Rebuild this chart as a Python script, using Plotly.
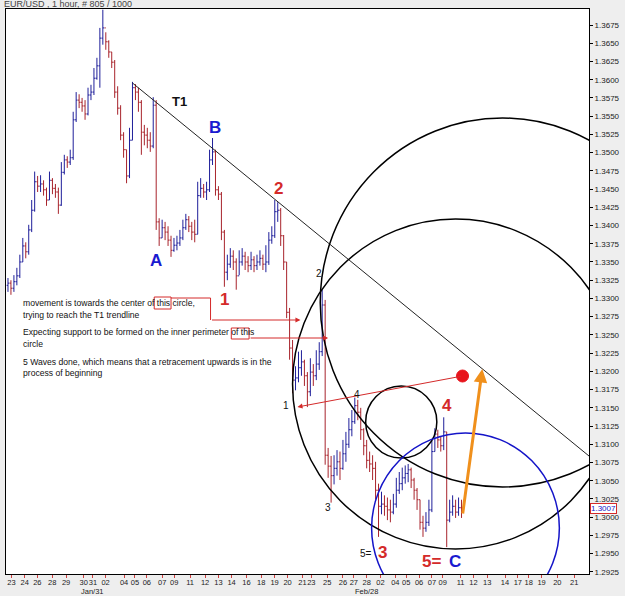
import plotly.graph_objects as go

chart_title = "EUR/USD , 1 hour, # 805 / 1000"
first_open = 1.3318
closes = [1.3321,1.3314,1.3323,1.3331,1.3350,1.3372,1.3364,1.3394,1.3421,1.3460,
1.3454,1.3457,1.3449,1.3435,1.3462,1.3451,1.3446,1.3428,1.3473,1.3490,
1.3487,1.3493,1.3545,1.3572,1.3569,1.3564,1.3553,1.3579,1.3583,1.3602,
1.3619,1.3657,1.3671,1.3652,1.3638,1.3624,1.3583,1.3561,1.3524,1.3504,
1.3468,1.3517,1.3589,1.3583,1.3569,1.3528,1.3524,1.3517,1.3509,1.3565,
1.3405,1.3383,1.3397,1.3391,1.3380,1.3366,1.3373,1.3376,1.3383,1.3397,
1.3408,1.3399,1.3391,1.3388,1.3441,1.3451,1.3446,1.3449,1.3490,1.3501,
1.3449,1.3443,1.3391,1.3336,1.3347,1.3358,1.3350,1.3331,1.3350,1.3358,
1.3350,1.3345,1.3353,1.3345,1.3350,1.3355,1.3347,1.3350,1.3380,1.3386,
1.3419,1.3421,1.3386,1.3350,1.3281,1.3232,1.3188,1.3191,1.3205,1.3213,
1.3194,1.3172,1.3199,1.3194,1.3210,1.3227,1.3291,1.3085,1.3070,1.3057,
1.3067,1.3076,1.3067,1.3087,1.3100,1.3120,1.3131,1.3153,1.3144,1.3120,
1.3098,1.3078,1.3073,1.3067,1.3037,1.3015,1.3018,1.3015,1.3010,1.3007,
1.3018,1.3037,1.3046,1.3054,1.3060,1.3065,1.3051,1.3037,1.3024,1.2993,
1.2985,1.2993,1.3010,1.3090,1.3114,1.3106,1.3098,1.3117,1.2996,1.3007,
1.3015,1.3007,1.3013,1.3007]
highs = [1.3328,1.3325,1.3332,1.3342,1.3360,1.3383,1.3377,1.3401,1.3435,1.3474,
1.3468,1.3469,1.3462,1.3452,1.3474,1.3465,1.3457,1.3452,1.3487,1.3497,
1.3495,1.3504,1.3556,1.3583,1.3580,1.3575,1.3572,1.3589,1.3593,1.3616,
1.3630,1.3671,1.3696,1.3665,1.3654,1.3638,1.3627,1.3591,1.3565,1.3528,
1.3504,1.3534,1.3597,1.3594,1.3589,1.3572,1.3538,1.3534,1.3528,1.3576,
1.3572,1.3410,1.3408,1.3405,1.3399,1.3386,1.3383,1.3386,1.3394,1.3408,
1.3416,1.3413,1.3405,1.3408,1.3460,1.3465,1.3457,1.3460,1.3504,1.3520,
1.3504,1.3454,1.3446,1.3394,1.3360,1.3369,1.3366,1.3355,1.3366,1.3369,
1.3364,1.3358,1.3364,1.3358,1.3360,1.3366,1.3360,1.3373,1.3391,1.3399,
1.3435,1.3432,1.3424,1.3387,1.3350,1.3287,1.3243,1.3207,1.3227,1.3229,
1.3216,1.3199,1.3218,1.3210,1.3229,1.3240,1.3312,1.3298,1.3095,1.3084,
1.3085,1.3092,1.3090,1.3106,1.3117,1.3136,1.3147,1.3164,1.3161,1.3150,
1.3122,1.3106,1.3090,1.3085,1.3076,1.3046,1.3035,1.3030,1.3027,1.3024,
1.3032,1.3054,1.3062,1.3068,1.3071,1.3073,1.3068,1.3054,1.3040,1.3024,
1.3002,1.3007,1.3024,1.3106,1.3122,1.3120,1.3111,1.3137,1.3117,1.3024,
1.3030,1.3024,1.3027,1.3024]
lows = [1.3309,1.3305,1.3309,1.3318,1.3328,1.3350,1.3355,1.3360,1.3391,1.3419,
1.3446,1.3446,1.3441,1.3427,1.3435,1.3443,1.3438,1.3416,1.3427,1.3470,
1.3479,1.3483,1.3490,1.3542,1.3561,1.3556,1.3545,1.3551,1.3572,1.3579,
1.3600,1.3589,1.3648,1.3641,1.3630,1.3616,1.3575,1.3552,1.3517,1.3493,
1.3458,1.3465,1.3517,1.3572,1.3556,1.3497,1.3510,1.3506,1.3501,1.3506,
1.3394,1.3372,1.3383,1.3380,1.3372,1.3357,1.3364,1.3366,1.3372,1.3380,
1.3394,1.3391,1.3380,1.3377,1.3388,1.3438,1.3438,1.3435,1.3446,1.3483,
1.3441,1.3435,1.3380,1.3316,1.3325,1.3342,1.3339,1.3312,1.3332,1.3345,
1.3339,1.3336,1.3339,1.3336,1.3339,1.3345,1.3339,1.3336,1.3346,1.3375,
1.3383,1.3405,1.3372,1.3339,1.3273,1.3216,1.3170,1.3174,1.3185,1.3194,
1.3180,1.3151,1.3166,1.3180,1.3188,1.3202,1.3221,1.3072,1.3054,1.3020,
1.3045,1.3057,1.3051,1.3065,1.3076,1.3095,1.3111,1.3128,1.3133,1.3106,
1.3085,1.3067,1.3062,1.3051,1.3024,1.2973,1.3004,1.3002,1.2996,1.2993,
1.3004,1.3013,1.3032,1.3037,1.3046,1.3048,1.3040,1.3024,1.3010,1.2983,
1.2973,1.2980,1.2988,1.3007,1.3090,1.3095,1.3090,1.3092,1.2959,1.2993,
1.3002,1.2999,1.3002,1.2999]
tick_pos = [1.17,5.67,9.9,14.93,19.6,25.57,28.67,32.93,39.17,42.83,46.83,52,56.07,61.43,66.5,71,75.43,80.43,85.43,89.93,94.33,99.33,102.33,107.67,113,116.67,121,125.67,130.67,134.33,138.67,143,146.67,152.67,157,161.67,167.67,172,175.67,180,185.33,191]
tick_text = ["23","24","26","28","29","30","31","02","04","05","06","07","09","11","12","13","14","16","18","19",
"20","21","23","25","26","27","28","02","04","05","06","07","09","11","12","13","14","17","18","19","20","21"]
month_labels = ["Jan/31", "Feb/28"]
month_pos = [28.67, 121]
last_price = 1.3007

opens = [first_open] + closes[:-1]
bars = list(range(len(closes)))

# pixel -> data / paper helpers for the hand-drawn annotations
def X(px):
    return (px - 7) / 3.0

def Y(py):
    return 1.3675 - (py - 25) * 0.0025 / 18.23

def PX(px):
    return (px - 5) / 590.0

def PY(py):
    return (574 - py) / 565.0

fig = go.Figure(go.Ohlc(x=bars, open=opens, high=highs, low=lows, close=closes,
                        increasing=dict(line=dict(color="#1f1f9a", width=1)),
                        decreasing=dict(line=dict(color="#a8242c", width=1)),
                        tickwidth=0.45, hoverinfo="skip"))

RED = "#d42a2a"
shapes = []
def seg(x0, y0, x1, y1, color, w=1):
    shapes.append(dict(type="line", xref="x", yref="y", x0=X(x0), y0=Y(y0), x1=X(x1), y1=Y(y1),
                       line=dict(color=color, width=w)))
def circ(l, t, r, b, color, w=1.5):
    shapes.append(dict(type="circle", xref="x", yref="y", x0=X(l), x1=X(r), y0=Y(b), y1=Y(t),
                       line=dict(color=color, width=w)))

seg(133, 83, 595, 456, "#222222", 1)          # T1 trendline
circ(323, 118, 692, 487, "black")
circ(295, 219, 625, 549, "black")
circ(369, 386, 441, 458, "black")
circ(375, 433, 565, 623, "#1414c8")
shapes.append(dict(type="rect", xref="x", yref="y", x0=X(155), x1=X(172), y0=Y(309), y1=Y(297),
                   line=dict(color=RED, width=1)))
shapes.append(dict(type="rect", xref="x", yref="y", x0=X(233), x1=X(251), y0=Y(339), y1=Y(328),
                   line=dict(color=RED, width=1)))
seg(172, 298, 212, 298, RED)
seg(212, 298, 212, 320, RED)
shapes.append(dict(type="circle", xref="x", yref="y", xsizemode="pixel", ysizemode="pixel",
                   xanchor=X(467), yanchor=Y(376), x0=-6, x1=6, y0=-6, y1=6,
                   fillcolor="#e8141c", line=dict(color="#e8141c", width=1)))

ann = []
def arrow(hx, hy, tx, ty, color, w=1, size=1.0):
    ann.append(dict(x=X(hx), y=Y(hy), ax=X(tx), ay=Y(ty), xref="x", yref="y", axref="x", ayref="y",
                    text="", showarrow=True, arrowhead=2, arrowsize=size, arrowwidth=w, arrowcolor=color))
arrow(303, 320, 212, 320, RED)
arrow(331, 338, 251, 338, RED)
arrow(300, 407, 467, 376, RED)
arrow(487, 369, 467, 515, "#f0901c", 3, 0.9)

def txt(s, px, py, size=9, color="#111", bold=False, anchor="center"):
    ann.append(dict(x=X(px), y=Y(py), xref="x", yref="y", text=("<b>%s</b>" % s) if bold else s,
                    showarrow=False, xanchor=anchor, yanchor="middle",
                    font=dict(size=size, color=color, family="Liberation Sans, Arial")))

def ptxt(s, px, py, size=9, color="#222", anchor="center", **kw):
    ann.append(dict(x=PX(px), y=PY(py), xref="paper", yref="paper", text=s, showarrow=False,
                    xanchor=anchor, yanchor="middle",
                    font=dict(size=size, color=color, family="Liberation Sans, Arial"), **kw))

ptxt(chart_title, 1, 4, 9, "#444", anchor="left")
NOTE = 8.6
txt("movement is towards the center of this circle,", 20, 303, NOTE, anchor="left")
txt("trying to reach the T1 trendline", 20, 315, NOTE, anchor="left")
txt("Expecting support to be formed on the inner perimeter of this", 20, 332, NOTE, anchor="left")
txt("circle", 20, 344, NOTE, anchor="left")
txt("5 Waves done, which means that a retracement upwards is in the", 20, 362, NOTE, anchor="left")
txt("process of beginning", 20, 373, NOTE, anchor="left")

BLUE = "#1a1ad0"
txt("T1", 181, 101, 13, "#111", True)
txt("B", 216, 127, 17, BLUE, True)
txt("A", 157, 260, 17, BLUE, True)
txt("2", 281, 188, 17, RED, True)
txt("1", 226, 299, 17, RED, True)
txt("2", 322, 273, 10)
txt("1", 288, 405, 10)
txt("4", 360, 394, 10)
txt("3", 331, 507, 10)
txt("5=", 369, 553, 10)
txt("3", 386, 552, 17, RED, True)
txt("4", 451, 405, 17, RED, True)
txt("5=", 436, 561, 17, RED, True)
txt("C", 459, 561, 17, BLUE, True)

for lab, p in zip(month_labels, month_pos):
    ann.append(dict(x=p, y=PY(591), xref="x", yref="paper", text=lab, showarrow=False,
                    font=dict(size=7.5, color="#222"), xanchor="center", yanchor="middle"))
ptxt("%.4f" % last_price, 610, 508, 8, "#1414c8", bgcolor="white", bordercolor=RED,
     borderwidth=1, borderpad=0)

fig.update_layout(width=625, height=596, margin=dict(l=5, r=30, t=9, b=22),
                  paper_bgcolor="#eeeeee", plot_bgcolor="white", showlegend=False,
                  font=dict(family="Liberation Sans, Arial", size=9, color="#222"),
                  shapes=shapes, annotations=ann)
fig.update_xaxes(range=[X(5), X(595)], tickvals=tick_pos, ticktext=tick_text, ticks="outside",
                 tickangle=0, ticklen=3, tickcolor="#d04040", showgrid=False, zeroline=False, showline=True,
                 linecolor="black", mirror=True, rangeslider_visible=False, ticklabelstandoff=-2,
                 tickfont=dict(size=7.5, color="#222"))
fig.update_yaxes(side="right", range=[Y(574), Y(9)], dtick=0.0025, tick0=1.2925, tickformat=".4f",
                 ticks="outside", ticklen=3, tickcolor="black", showgrid=False, zeroline=False,
                 showline=True, linecolor="black", mirror=True, tickfont=dict(size=8, color="#222"))
fig.write_html("out.html")
